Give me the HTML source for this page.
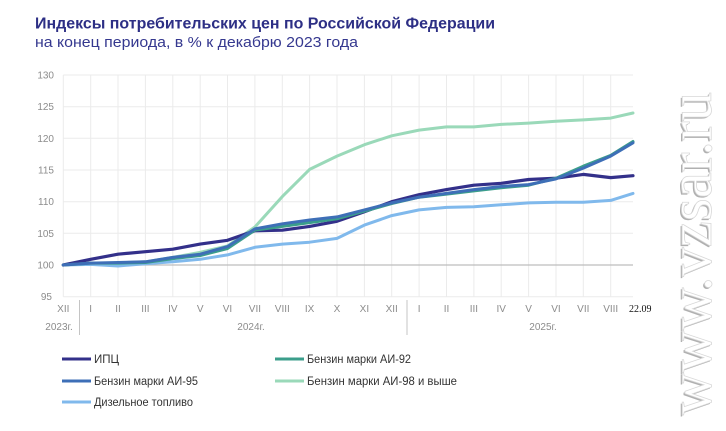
<!DOCTYPE html>
<html>
<head>
<meta charset="utf-8">
<style>
html,body{margin:0;padding:0;background:#fff;}
svg{display:block;}
</style>
</head>
<body>
<svg width="726" height="431" viewBox="0 0 726 431" xmlns="http://www.w3.org/2000/svg">
<rect width="726" height="431" fill="#ffffff"/>
<!-- Title -->
<text x="35" y="28.5" font-family="Liberation Sans, sans-serif" font-size="16" font-weight="bold" fill="#2d2f85" textLength="460" lengthAdjust="spacingAndGlyphs">Индексы потребительских цен по Российской Федерации</text>
<text x="35" y="47" font-family="Liberation Sans, sans-serif" font-size="15" fill="#35388f" textLength="323" lengthAdjust="spacingAndGlyphs">на конец периода, в % к декабрю 2023 года</text>

<!-- grid -->
<g stroke="#ebebeb" stroke-width="1">
<line x1="63.3" y1="75" x2="633" y2="75"/>
<line x1="63.3" y1="106.7" x2="633" y2="106.7"/>
<line x1="63.3" y1="138.3" x2="633" y2="138.3"/>
<line x1="63.3" y1="170" x2="633" y2="170"/>
<line x1="63.3" y1="201.7" x2="633" y2="201.7"/>
<line x1="63.3" y1="233.3" x2="633" y2="233.3"/>
<line x1="63.3" y1="296.7" x2="633" y2="296.7"/>
<line x1="63.3" y1="75" x2="63.3" y2="296.7"/>
<line x1="90.7" y1="75" x2="90.7" y2="296.7"/>
<line x1="118" y1="75" x2="118" y2="296.7"/>
<line x1="145.4" y1="75" x2="145.4" y2="296.7"/>
<line x1="172.8" y1="75" x2="172.8" y2="296.7"/>
<line x1="200.2" y1="75" x2="200.2" y2="296.7"/>
<line x1="227.5" y1="75" x2="227.5" y2="296.7"/>
<line x1="254.9" y1="75" x2="254.9" y2="296.7"/>
<line x1="282.3" y1="75" x2="282.3" y2="296.7"/>
<line x1="309.6" y1="75" x2="309.6" y2="296.7"/>
<line x1="337" y1="75" x2="337" y2="296.7"/>
<line x1="364.4" y1="75" x2="364.4" y2="296.7"/>
<line x1="391.7" y1="75" x2="391.7" y2="296.7"/>
<line x1="419.1" y1="75" x2="419.1" y2="296.7"/>
<line x1="446.5" y1="75" x2="446.5" y2="296.7"/>
<line x1="473.9" y1="75" x2="473.9" y2="296.7"/>
<line x1="501.2" y1="75" x2="501.2" y2="296.7"/>
<line x1="528.6" y1="75" x2="528.6" y2="296.7"/>
<line x1="556" y1="75" x2="556" y2="296.7"/>
<line x1="583.3" y1="75" x2="583.3" y2="296.7"/>
<line x1="610.7" y1="75" x2="610.7" y2="296.7"/>
</g>
<line x1="63.3" y1="265" x2="633" y2="265" stroke="#bdbdbd" stroke-width="1.2"/>

<!-- y labels -->
<g font-family="Liberation Sans, sans-serif" font-size="10" fill="#8c8c8c" text-anchor="end">
<text x="54" y="78.5">130</text>
<text x="54" y="110.2">125</text>
<text x="54" y="141.8">120</text>
<text x="54" y="173.5">115</text>
<text x="54" y="205.2">110</text>
<text x="54" y="236.8">105</text>
<text x="54" y="268.5">100</text>
<text x="52" y="300.2">95</text>
</g>

<!-- x labels -->
<g font-family="Liberation Sans, sans-serif" font-size="10" fill="#8c8c8c" text-anchor="middle">
<text x="63.3" y="312">XII</text>
<text x="90.7" y="312">I</text>
<text x="118" y="312">II</text>
<text x="145.4" y="312">III</text>
<text x="172.8" y="312">IV</text>
<text x="200.2" y="312">V</text>
<text x="227.5" y="312">VI</text>
<text x="254.9" y="312">VII</text>
<text x="282.3" y="312">VIII</text>
<text x="309.6" y="312">IX</text>
<text x="337" y="312">X</text>
<text x="364.4" y="312">XI</text>
<text x="391.7" y="312">XII</text>
<text x="419.1" y="312">I</text>
<text x="446.5" y="312">II</text>
<text x="473.9" y="312">III</text>
<text x="501.2" y="312">IV</text>
<text x="528.6" y="312">V</text>
<text x="556" y="312">VI</text>
<text x="583.3" y="312">VII</text>
<text x="610.7" y="312">VIII</text>
<text x="59" y="330">2023г.</text>
<text x="251" y="330">2024г.</text>
<text x="543" y="330">2025г.</text>
</g>
<text x="629" y="312" font-family="Liberation Serif, serif" font-size="10" fill="#111">22.09</text>
<line x1="79.5" y1="300" x2="79.5" y2="335" stroke="#c4c4c4" stroke-width="1"/>
<line x1="407" y1="300" x2="407" y2="335" stroke="#c4c4c4" stroke-width="1"/>

<!-- series -->
<g fill="none" stroke-linejoin="round" stroke-linecap="round">
<polyline stroke="#80b9ec" stroke-width="3" points="63.3,265 90.7,264.4 118,266 145.4,263.7 172.8,261.8 200.2,259.3 227.5,254.9 254.9,247.3 282.3,244.1 309.6,242.2 337,238.4 364.4,225.1 391.7,215.6 419.1,209.9 446.5,207.4 473.9,206.7 501.2,204.8 528.6,202.9 556,202.3 583.3,202.3 610.7,200.4 633,193.4"/>
<polyline stroke="#9ad9b9" stroke-width="3" points="63.3,265 90.7,263.1 118,263.1 145.4,261.8 172.8,257.4 200.2,252.3 227.5,246 254.9,227 282.3,196.6 309.6,169.4 337,156.1 364.4,144.7 391.7,135.8 419.1,130.1 446.5,126.9 473.9,126.9 501.2,124.4 528.6,123.1 556,121.2 583.3,119.9 610.7,118.1 633,113"/>
<polyline stroke="#33308a" stroke-width="3.2" points="63.3,265 90.7,259.3 118,254.2 145.4,251.7 172.8,249.2 200.2,244.1 227.5,240.3 254.9,230.8 282.3,230.2 309.6,226.4 337,221.3 364.4,211.8 391.7,201.7 419.1,194.7 446.5,189.6 473.9,185.2 501.2,183.3 528.6,179.5 556,178.2 583.3,174.4 610.7,177.6 633,175.7"/>
<polyline stroke="#3b9e8b" stroke-width="3" points="63.3,265 90.7,263.1 118,263.1 145.4,262.5 172.8,258.7 200.2,255.5 227.5,248.5 254.9,230.2 282.3,226.4 309.6,222.6 337,218.8 364.4,211.2 391.7,203.6 419.1,197.2 446.5,194.1 473.9,190.9 501.2,187.7 528.6,185.2 556,178.2 583.3,166.2 610.7,155.4 633,141.5"/>
<polyline stroke="#3e6fb7" stroke-width="3" points="63.3,265 90.7,263.1 118,262.5 145.4,261.8 172.8,257.4 200.2,254.2 227.5,246.6 254.9,228.9 282.3,223.8 309.6,220 337,216.9 364.4,209.9 391.7,202.9 419.1,197.2 446.5,193.4 473.9,189.6 501.2,186.5 528.6,184.6 556,178.9 583.3,168.1 610.7,156.1 633,142.8"/>
</g>

<!-- legend -->
<g stroke-width="3" stroke-linecap="butt">
<line x1="62" y1="359" x2="91" y2="359" stroke="#33308a"/>
<line x1="62" y1="381" x2="91" y2="381" stroke="#3e6fb7"/>
<line x1="62" y1="402" x2="91" y2="402" stroke="#80b9ec"/>
<line x1="275" y1="359" x2="304" y2="359" stroke="#3b9e8b"/>
<line x1="275" y1="381" x2="304" y2="381" stroke="#9ad9b9"/>
</g>
<g font-family="Liberation Sans, sans-serif" font-size="11.5" fill="#333">
<text x="94" y="363">ИПЦ</text>
<text x="94" y="385" textLength="104" lengthAdjust="spacingAndGlyphs">Бензин марки АИ-95</text>
<text x="94" y="406" textLength="99" lengthAdjust="spacingAndGlyphs">Дизельное топливо</text>
<text x="307" y="363" textLength="104" lengthAdjust="spacingAndGlyphs">Бензин марки АИ-92</text>
<text x="307" y="385" textLength="150" lengthAdjust="spacingAndGlyphs">Бензин марки АИ-98 и выше</text>
</g>

<!-- watermark -->
<g transform="translate(711,415) rotate(-90)" font-family="Liberation Serif, serif" font-size="62">
<text x="-1.5" y="-1.5" fill="#b0b0b0" textLength="323" lengthAdjust="spacingAndGlyphs">www.vzsar.ru</text>
<text x="0" y="0" fill="#ffffff" stroke="#d8d8d8" stroke-width="0.8" textLength="323" lengthAdjust="spacingAndGlyphs">www.vzsar.ru</text>
</g>
</svg>
</body>
</html>
